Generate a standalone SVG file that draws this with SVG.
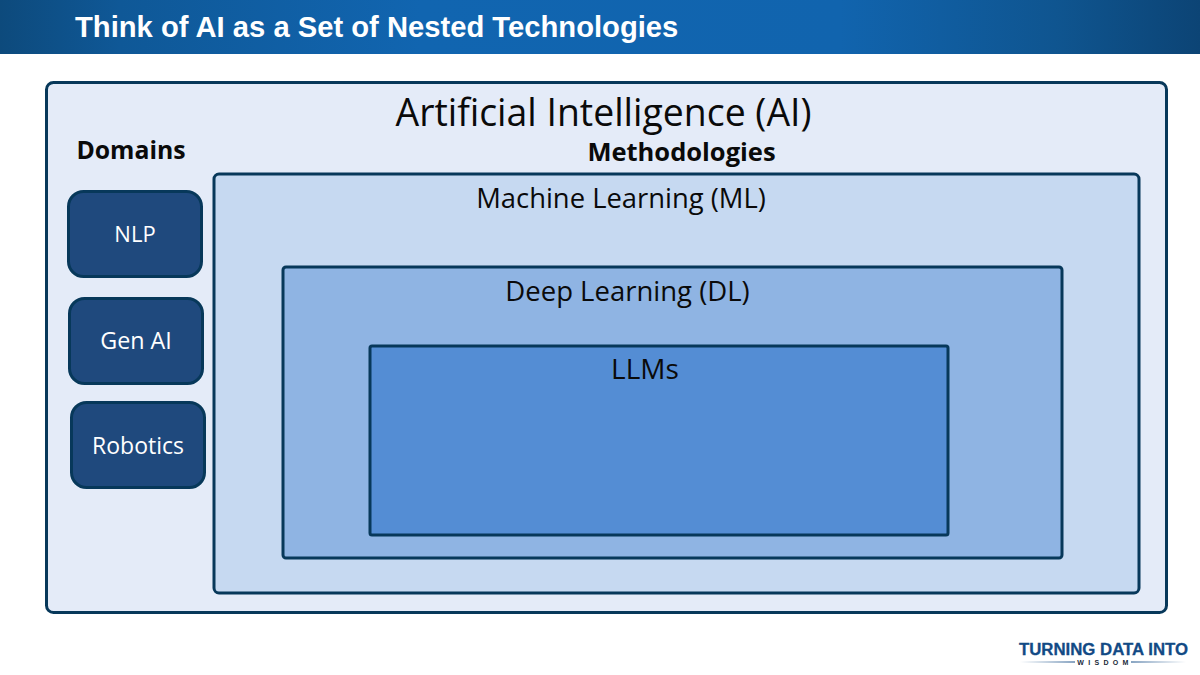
<svg xmlns="http://www.w3.org/2000/svg" width="1200" height="675" viewBox="0 0 1200 675">
<defs><linearGradient id="hdr" x1="0" y1="0" x2="1" y2="0"><stop offset="0" stop-color="#0d4a7c"/><stop offset="0.1" stop-color="#0f5897"/><stop offset="0.35" stop-color="#1165b0"/><stop offset="0.7" stop-color="#1164ae"/><stop offset="0.88" stop-color="#0f5590"/><stop offset="1" stop-color="#0c4475"/></linearGradient>
<linearGradient id="fl"><stop offset="0" stop-color="#124a85" stop-opacity="0"/><stop offset="1" stop-color="#124a85"/></linearGradient>
<linearGradient id="fr"><stop offset="0" stop-color="#124a85"/><stop offset="1" stop-color="#124a85" stop-opacity="0"/></linearGradient></defs>
<style>
text{font-family:"Open Sans","Noto Sans",sans-serif;text-anchor:middle}
.box{stroke:#07385a;stroke-width:3}
.dom{fill:#1f497d;stroke:#07385a;stroke-width:3}
.dt{fill:#fff}
.lbl{fill:#0a0a0a}
</style>
<rect width="1200" height="675" fill="#fff"/>
<rect width="1200" height="54" fill="url(#hdr)"/>
<text x="75" y="37" style="font-family:'Liberation Sans',Arial,sans-serif;font-weight:700;font-size:29.2px;text-anchor:start;fill:#fff">Think of AI as a Set of Nested Technologies</text>
<g id="ai"><rect class="box" x="46.500" y="82.500" width="1120" height="530" rx="7" fill="#e4ebf8"/>
<text class="lbl" x="603.500" y="126" font-size="37.400">Artificial Intelligence (AI)</text></g>
<g id="domains-label"><text class="lbl" x="131" y="159" font-size="24.800" font-weight="700">Domains</text></g>
<g id="methodologies-label"><text class="lbl" x="681.500" y="161" font-size="25.500" font-weight="700">Methodologies</text></g>
<g id="ml"><rect class="box" x="214" y="174" width="925" height="419" rx="5" fill="#c6d9f1"/>
<text class="lbl" x="621" y="208" font-size="27.400">Machine Learning (ML)</text></g>
<g id="dl"><rect class="box" x="283" y="267" width="779" height="291" rx="3" fill="#8fb4e3"/>
<text class="lbl" x="627.500" y="301" font-size="27.500">Deep Learning (DL)</text></g>
<g id="llms"><rect class="box" x="370" y="346" width="578" height="189" rx="2" fill="#548dd4"/>
<text class="lbl" x="645" y="379" font-size="28">LLMs</text></g>
<g id="nlp"><rect class="dom" x="68.500" y="191.500" width="133" height="85" rx="15"/><text class="dt" x="135" y="242" font-size="22">NLP</text></g>
<g id="genai"><rect class="dom" x="69.500" y="298.500" width="133" height="85" rx="15"/><text class="dt" x="136" y="349" font-size="23.300">Gen AI</text></g>
<g id="robotics"><rect class="dom" x="71.500" y="402.500" width="133" height="85" rx="15"/><text class="dt" x="138" y="454" font-size="23">Robotics</text></g>
<g id="logo"><text x="1103.500" y="655" style="font-family:'Liberation Sans',Arial,sans-serif;font-weight:700;font-size:16.800px;fill:#124a85;stroke:#124a85;stroke-width:0.300">TURNING DATA INTO</text>
<text x="1105" y="664.500" style="font-family:'Liberation Sans',Arial,sans-serif;font-weight:700;font-size:7px;letter-spacing:4.300px;fill:#1a2a3a">WISDOM</text>
<rect x="1020" y="661.500" width="55" height="1" fill="url(#fl)"/><rect x="1131" y="661.500" width="55" height="1" fill="url(#fr)"/></g>
</svg>
